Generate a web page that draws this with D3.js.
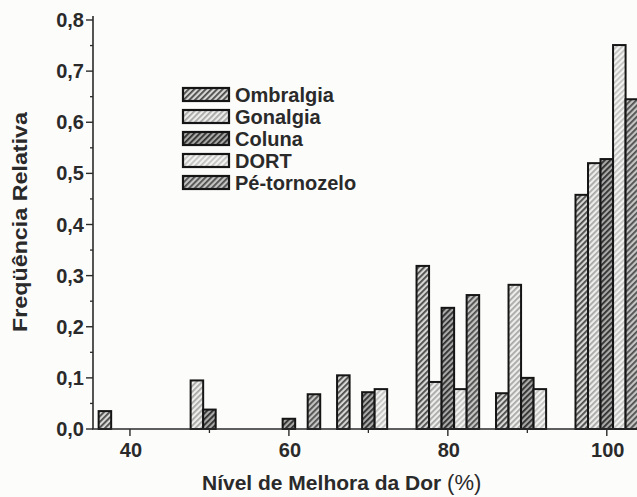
<!DOCTYPE html>
<html>
<head>
<meta charset="utf-8">
<script src="https://cdn.jsdelivr.net/npm/d3@7"></script>
<style>
  body { margin: 0; background: #fcfcfa; }
  svg { display: block; font-family: "Liberation Sans", Arial, sans-serif; }
</style>
</head>
<body>
<script>
// Dados
var grupos = [40, 50, 60, 70, 80, 90, 100];
var series = ["Ombralgia", "Gonalgia", "Coluna", "DORT", "Pé-tornozelo"];
var ombralgia   = [0.035, 0,     0,     0.105, 0.319, 0.07,  0.458];
var gonalgia    = [0,     0.095, 0,     0,     0.092, 0.282, 0.52];
var coluna      = [0,     0.038, 0.02,  0.072, 0.237, 0.1,   0.528];
var dort        = [0,     0,     0,     0.078, 0.078, 0.078, 0.751];
var peTornozelo = [0,     0,     0.068, 0,     0.262, 0,     0.645];
var yTicks = [0, 0.1, 0.2, 0.3, 0.4, 0.5, 0.6, 0.7, 0.8];
var xTicks = [40, 60, 80, 100];

var valores = [ombralgia, gonalgia, coluna, dort, peTornozelo];

var width = 637, height = 497;

var svg = d3.select("body").append("svg")
  .attr("width", width)
  .attr("height", height);

// Padrões hachurados para cada série
var estilos = [
  {fundo: "#d6d6d4", risco: "#4a4a4a"},
  {fundo: "#ededeb", risco: "#a8a8a6"},
  {fundo: "#a9a9a7", risco: "#2e2e2e"},
  {fundo: "#f3f3f1", risco: "#c2c2c0"},
  {fundo: "#c4c4c2", risco: "#4f4f4f"}
];
var defs = svg.append("defs");
estilos.forEach(function(e, i) {
  var p = defs.append("pattern")
    .attr("id", "hatch" + i)
    .attr("patternUnits", "userSpaceOnUse")
    .attr("width", 4).attr("height", 4)
    .attr("patternTransform", "rotate(45)");
  p.append("rect").attr("width", 4).attr("height", 4).attr("fill", e.fundo);
  p.append("rect").attr("width", 1.8).attr("height", 4).attr("fill", e.risco);
});

// Escalas
var x = d3.scaleLinear().domain([35.35, 103.8]).range([93, 637]);
var y = d3.scaleLinear().domain([0, 0.8]).range([429, 20]);
var larguraGrupo = x(100) - x(92.12);
var inner = d3.scaleBand().domain(series).range([-larguraGrupo / 2, larguraGrupo / 2]);

// Barras
var dados = [];
grupos.forEach(function(g, gi) {
  series.forEach(function(s, si) {
    if (valores[si][gi] > 0) dados.push({grupo: g, serie: s, idx: si, valor: valores[si][gi]});
  });
});

svg.append("g").selectAll("rect")
  .data(dados)
  .enter()
  .append("rect")
  .attr("x", function(d) { return x(d.grupo) + inner(d.serie); })
  .attr("y", function(d) { return y(d.valor); })
  .attr("width", inner.bandwidth())
  .attr("height", function(d) { return y(0) - y(d.valor); })
  .attr("fill", function(d) { return "url(#hatch" + d.idx + ")"; })
  .attr("stroke", "#151515")
  .attr("stroke-width", 2);

// Eixo Y
var gy = svg.append("g").attr("transform", "translate(93,0)");
gy.append("line").attr("x1", 0).attr("x2", 0).attr("y1", y(0.8) - 4).attr("y2", y(0))
  .attr("stroke", "#2a2a2a").attr("stroke-width", 1.6);
gy.selectAll(".minor").data(d3.range(0.05, 0.8, 0.1)).enter().append("line")
  .attr("x1", -3).attr("x2", 0)
  .attr("y1", function(d) { return y(d); }).attr("y2", function(d) { return y(d); })
  .attr("stroke", "#2a2a2a").attr("stroke-width", 1.3);
gy.selectAll(".major").data(yTicks).enter().append("line")
  .attr("x1", -7).attr("x2", 0)
  .attr("y1", function(d) { return y(d); }).attr("y2", function(d) { return y(d); })
  .attr("stroke", "#2a2a2a").attr("stroke-width", 1.4);
gy.selectAll("text").data(yTicks).enter().append("text")
  .attr("x", -9)
  .attr("y", function(d) { return y(d) + 7; })
  .attr("text-anchor", "end")
  .attr("font-size", "20px")
  .attr("font-weight", "bold")
  .attr("fill", "#2a2a2a")
  .text(function(d) { return d3.format(".1f")(d).replace(".", ","); });

// Eixo X
var gx = svg.append("g").attr("transform", "translate(0," + y(0) + ")");
gx.append("line").attr("x1", 92).attr("x2", width).attr("y1", 0).attr("y2", 0)
  .attr("stroke", "#2a2a2a").attr("stroke-width", 1.6);
gx.selectAll(".minor").data([50, 70, 90]).enter().append("line")
  .attr("x1", function(d) { return x(d); }).attr("x2", function(d) { return x(d); })
  .attr("y1", 0).attr("y2", 4)
  .attr("stroke", "#2a2a2a").attr("stroke-width", 1.3);
gx.selectAll(".major").data(xTicks).enter().append("line")
  .attr("x1", function(d) { return x(d); }).attr("x2", function(d) { return x(d); })
  .attr("y1", 0).attr("y2", 7)
  .attr("stroke", "#2a2a2a").attr("stroke-width", 1.4);
gx.selectAll("text").data(xTicks).enter().append("text")
  .attr("x", function(d) { return x(d) + 1; })
  .attr("y", 28)
  .attr("text-anchor", "middle")
  .attr("font-size", "20px")
  .attr("font-weight", "bold")
  .attr("fill", "#2a2a2a")
  .text(function(d) { return d; });

// Títulos dos eixos
var tx = svg.append("text")
  .attr("x", 202)
  .attr("y", 490)
  .attr("font-size", "21px")
  .attr("fill", "#2a2a2a");
tx.append("tspan").attr("font-weight", "bold").text("Nível de Melhora da Dor ");
tx.append("tspan").attr("font-size", "22px").text("(%)");

svg.append("text")
  .attr("transform", "translate(27,222) rotate(-90)")
  .attr("text-anchor", "middle")
  .attr("font-size", "20px")
  .attr("font-weight", "bold")
  .attr("fill", "#2a2a2a")
  .attr("textLength", 220)
  .attr("lengthAdjust", "spacingAndGlyphs")
  .text("Freqüência Relativa");

// Legenda
var leg = svg.append("g").attr("transform", "translate(183,88)");
var itens = leg.selectAll("g").data(series).enter().append("g")
  .attr("transform", function(d, i) { return "translate(0," + (i * 22) + ")"; });
itens.append("rect")
  .attr("width", 46).attr("height", 13)
  .attr("fill", function(d, i) { return "url(#hatch" + i + ")"; })
  .attr("stroke", "#151515").attr("stroke-width", 2.2);
itens.append("text")
  .attr("x", 52).attr("y", 14)
  .attr("font-size", "20px")
  .attr("font-weight", "bold")
  .attr("fill", "#2a2a2a")
  .text(function(d) { return d; });
</script>
</body>
</html>
